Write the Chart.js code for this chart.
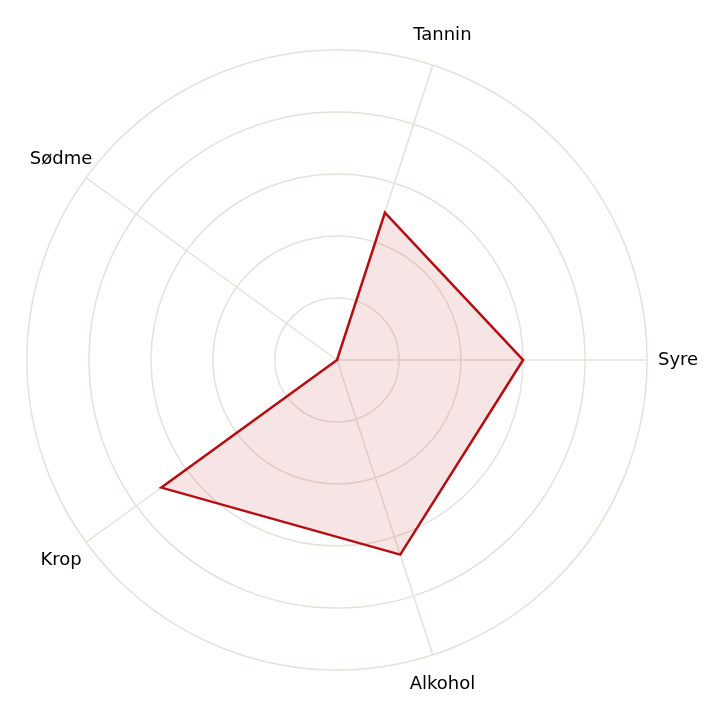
<!DOCTYPE html>
<html>
<head>
<meta charset="utf-8">
<script src="https://cdn.jsdelivr.net/npm/chart.js@4/dist/chart.umd.min.js"></script>
<style>
    html, body { margin: 0; padding: 0; background: #fff; }
    #wrap { width: 720px; height: 720px; }
</style>
</head>
<body>
<div id="wrap"><canvas id="radarChart"></canvas></div>
<script>
// Wine profile data
const categories = ['Syre', 'Alkohol', 'Krop', 'Sødme', 'Tannin'];
const profileValues = [3, 3.3, 3.5, 0, 2.5];
const scaleMax = 5;

// Axis names are drawn centred just outside the outer ring
const centredLabels = {
    id: 'centredLabels',
    afterDatasetsDraw(chart) {
        const scale = chart.scales.r;
        const ctx = chart.ctx;
        ctx.save();
        ctx.font = '18px "DejaVu Sans"';
        ctx.fillStyle = '#000';
        ctx.textAlign = 'center';
        ctx.textBaseline = 'middle';
        chart.data.labels.forEach((label, i) => {
            const pos = scale.getPointPosition(i, scale.drawingArea + 31);
            ctx.fillText(label, pos.x, pos.y);
        });
        ctx.restore();
    }
};

document.addEventListener('DOMContentLoaded', function() {
    new Chart(document.getElementById('radarChart').getContext('2d'), {
        type: 'radar',
        data: {
            labels: categories,
            datasets: [{
                label: 'Profil',
                data: profileValues,
                borderColor: '#b80c10',
                backgroundColor: 'rgba(184, 17, 26, 0.11)',
                borderWidth: 2.5,
                pointRadius: 0,
                fill: true
            }]
        },
        options: {
            responsive: true,
            maintainAspectRatio: false,
            animation: false,
            layout: { padding: 4 },
            plugins: {
                legend: { display: false },
                tooltip: { enabled: false }
            },
            scales: {
                r: {
                    min: 0,
                    max: scaleMax,
                    startAngle: 90,
                    ticks: { display: false, stepSize: 1 },
                    grid: { circular: true, color: '#e8e0d8', lineWidth: 1.5 },
                    angleLines: { color: '#e8e0d8', lineWidth: 1.5 },
                    pointLabels: {
                        // kept for layout only, the plugin draws the visible text
                        color: 'rgba(0, 0, 0, 0)',
                        font: { family: 'DejaVu Sans', size: 17 },
                        padding: 8
                    }
                }
            }
        },
        plugins: [centredLabels]
    });
});
</script>
</body>
</html>
